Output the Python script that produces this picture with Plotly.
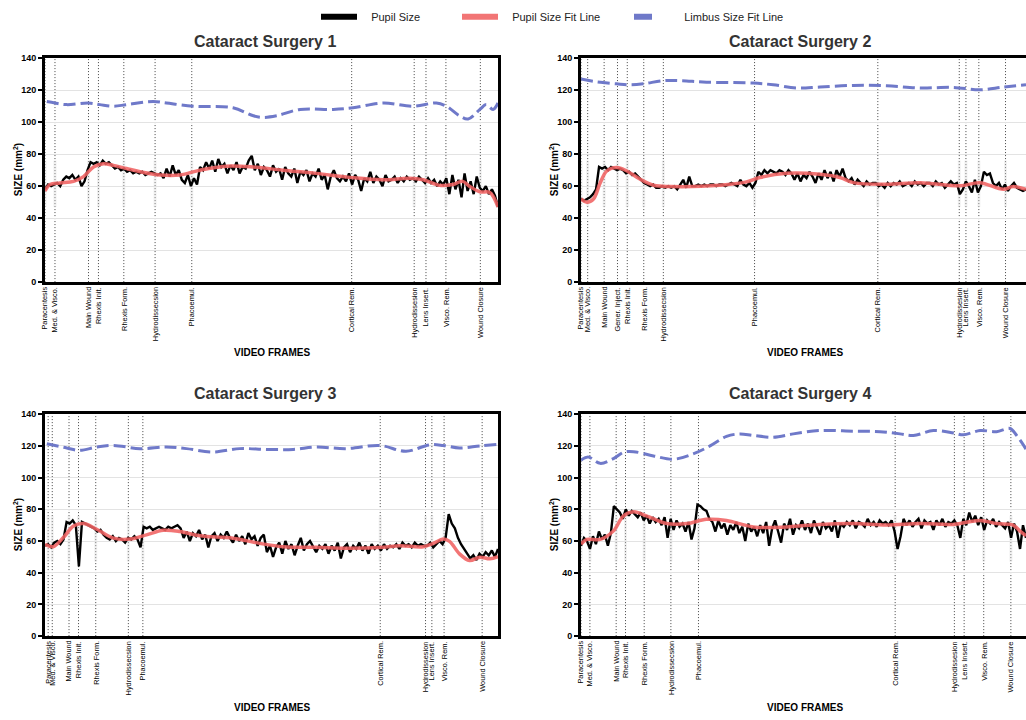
import plotly.graph_objects as go

# ---------------- data ----------------
N_FRAMES = 1000

PHASES_1 = ["Paracentesis", "Med. & Visco.", "Main Wound", "Rhexis Init.", "Rhexis Form.",
            "Hydrodissecsion", "Phacoemul.", "Cortical Rem.", "Hydrodissesion", "Lens Insert.",
            "Visco. Rem.", "Wound Closure"]
PHASE_FRAMES_1 = [0, 22, 96, 118, 174, 243, 324, 677, 815, 841, 885, 961]

PHASES_2 = ["Paracentesis", "Med. & Visco.", "Main Wound", "Gener. Inject.", "Rhexis Init.",
            "Rhexis Form.", "Hydrodissecsion", "Phacoemul.", "Cortical Rem.", "Hydrodissesion",
            "Lens Insert.", "Visco. Rem.", "Wound Closure"]
PHASE_FRAMES_2 = [0, 15, 52, 82, 104, 141, 185, 390, 667, 850, 865, 894, 954]

PHASES_3 = ["Paracentesis", "Med. & Visco.", "Main Wound", "Rhexis Init.", "Rhexis Form.",
            "Hydrodissecsion", "Phacoemul.", "Cortical Rem.", "Hydrodissesion", "Lens Insert.",
            "Visco. Rem.", "Wound Closure"]
PHASE_FRAMES_3 = [7, 16, 53, 74, 112, 184, 216, 740, 840, 854, 881, 965]

PHASES_4 = ["Paracentesis", "Med. & Visco.", "Main Wound", "Rhexis Init.", "Rhexis Form.",
            "Hydrodissecsion", "Phacoemul.", "Cortical Rem.", "Hydrodissesion", "Lens Insert.",
            "Visco. Rem.", "Wound Closure"]
PHASE_FRAMES_4 = [0, 20, 79, 100, 142, 202, 264, 706, 839, 861, 905, 966]

PUPIL_1 = [58, 61, 60, 61, 62, 60, 64, 66, 65, 67, 64, 66, 60, 63, 70, 75, 74, 75, 73, 76, 74, 75, 73,
           71, 72, 70, 71, 69, 70, 68, 69, 68, 69, 67, 68, 69, 68, 67, 68, 65, 71, 66, 73, 67, 70, 64,
           62, 67, 60, 65, 61, 72, 70, 75, 71, 76, 69, 77, 72, 74, 68, 73, 70, 75, 68, 72, 71, 76, 79,
           70, 74, 67, 72, 70, 66, 73, 69, 71, 64, 72, 68, 66, 71, 62, 69, 67, 70, 63, 68, 66, 71, 64,
           67, 58, 66, 70, 65, 63, 66, 63, 68, 61, 67, 64, 57, 65, 63, 69, 62, 66, 64, 60, 67, 63, 64,
           66, 62, 65, 63, 66, 64, 65, 63, 66, 64, 62, 65, 62, 64, 60, 63, 61, 65, 55, 67, 58, 64, 53,
           68, 57, 63, 55, 66, 59, 57, 60, 55, 58, 54, 47]
FIT_X_1 = [0, 11, 33, 63, 85, 107, 129, 151, 180, 210, 254, 298, 342, 400, 459, 525, 599, 673,
           746, 805, 835, 871, 900, 922, 937, 960, 982, 1000]
FIT_Y_1 = [57, 61, 62, 63, 66, 72, 74, 73, 71, 69, 67, 67, 70, 72.5, 72, 70, 68, 65.5, 64, 65, 64,
           60.5, 61, 63, 60, 56.5, 56, 47]
LIMBUS_X_1 = [4, 22, 48, 96, 121, 151, 180, 239, 268, 327, 415, 460, 482, 511, 563, 636, 680, 746,
              813, 864, 886, 915, 934, 960, 974, 989, 1000]
LIMBUS_Y_1 = [112.9, 112, 111, 112, 111, 110, 111, 113, 112, 110, 109, 104, 103, 104, 108, 108, 109,
              112, 110, 112, 110, 104, 102, 108, 111, 108, 112]

PUPIL_2 = [52, 51, 52, 53, 55, 58, 72, 71, 72, 70, 72, 71, 70, 71, 70, 68, 69, 67, 68, 66, 64, 62, 61,
           60, 61, 59, 59, 60, 59, 60, 59, 60, 58, 61, 64, 59, 66, 60, 60, 61, 60, 61, 60, 61, 61, 60,
           61, 61, 60, 61, 62, 61, 60, 64, 61, 60, 62, 59, 62, 69, 67, 70, 68, 70, 69, 68, 70, 69, 67,
           70, 68, 64, 68, 63, 67, 65, 69, 66, 62, 68, 64, 70, 65, 69, 63, 70, 66, 71, 65, 63, 65, 61,
           64, 62, 60, 63, 61, 62, 62, 60, 61, 59, 62, 60, 62, 61, 63, 60, 61, 62, 60, 63, 61, 62, 60,
           62, 62, 60, 63, 61, 62, 59, 61, 63, 61, 62, 55, 58, 63, 60, 56, 64, 56, 60, 69, 67, 68, 62,
           60, 62, 58, 61, 57, 60, 62, 59, 58, 57, 58]
FIT_X_2 = [0, 13, 28, 43, 58, 80, 103, 133, 163, 200, 312, 372, 402, 462, 537, 582, 612, 687, 762,
           852, 896, 949, 971, 1000]
FIT_Y_2 = [52, 50, 52, 62, 69.5, 71.6, 69.5, 64.3, 60.6, 59.8, 60.6, 62.7, 65.4, 68, 67.4, 65.4,
           62.2, 61.2, 62.2, 60.2, 62.2, 58, 59.8, 58]
LIMBUS_X_2 = [0, 28, 80, 110, 140, 185, 222, 282, 387, 432, 485, 537, 612, 687, 762, 836, 896, 949,
              1000]
LIMBUS_Y_2 = [127, 125.5, 124, 123.4, 124, 126, 126, 125, 124.5, 123.4, 121.4, 122, 123, 122.8,
              121.4, 121.8, 120.3, 122, 123.4]

PUPIL_3 = [57, 58, 56, 59, 60, 58, 61, 72, 71, 73, 70, 44, 72, 71, 70, 69, 68, 66, 67, 64, 62, 61, 63,
           60, 62, 61, 59, 62, 61, 63, 61, 56, 69, 68, 69, 67, 68, 69, 68, 67, 69, 68, 69, 70, 68, 62,
           66, 60, 65, 63, 67, 61, 64, 56, 63, 65, 60, 64, 62, 66, 62, 59, 64, 60, 63, 58, 65, 61, 63,
           57, 62, 64, 53, 57, 50, 56, 59, 52, 60, 55, 58, 51, 57, 62, 54, 58, 60, 56, 53, 57, 55, 58,
           52, 57, 54, 59, 49, 56, 58, 53, 57, 55, 59, 54, 57, 52, 58, 55, 57, 54, 58, 55, 57, 56, 58,
           55, 59, 57, 58, 56, 59, 57, 58, 57, 57, 59, 56, 58, 60, 58, 62, 77, 71, 68, 62, 58, 55, 52,
           49, 51, 48, 52, 50, 53, 51, 54, 50, 55]
FIT_X_3 = [0, 18, 40, 63, 85, 114, 151, 188, 224, 261, 298, 342, 415, 474, 526, 599, 673, 746, 783,
           835, 857, 879, 893, 915, 937, 960, 982, 1000]
FIT_Y_3 = [58, 56.4, 62, 69.5, 71, 67.4, 61.8, 61.2, 63.9, 66.8, 66, 63.3, 61.8, 58.5, 56.4, 56,
           55.4, 56, 57, 56.4, 58.5, 61.2, 59.8, 51.9, 47.7, 49.8, 48.8, 50.2]
LIMBUS_X_3 = [4, 48, 77, 114, 151, 210, 268, 312, 371, 430, 489, 548, 599, 665, 739, 797, 849, 879,
              915, 960, 1000]
LIMBUS_Y_3 = [121.4, 118.7, 117.2, 119.3, 120.3, 118.3, 119.3, 118.3, 116.2, 118.3, 117.8, 117.8,
              119.3, 118.3, 120.3, 116.6, 120.7, 120.3, 118.7, 120, 121]

PUPIL_4 = [57, 62, 60, 55, 63, 58, 66, 61, 64, 57, 65, 82, 80, 78, 74, 80, 76, 79, 77, 75, 78, 73, 76,
           71, 75, 72, 74, 70, 75, 62, 74, 67, 73, 69, 71, 66, 72, 61, 68, 83, 82, 80, 79, 74, 72, 66,
           73, 68, 71, 64, 70, 67, 72, 65, 69, 60, 71, 66, 69, 63, 70, 65, 72, 57, 68, 73, 66, 59, 71,
           67, 74, 64, 70, 68, 73, 67, 71, 65, 73, 69, 64, 72, 68, 70, 66, 73, 62, 71, 69, 72, 70, 73,
           68, 72, 71, 69, 74, 70, 72, 69, 73, 71, 72, 70, 73, 66, 55, 63, 74, 70, 73, 69, 72, 74, 68,
           73, 71, 72, 67, 73, 70, 74, 69, 72, 71, 73, 70, 62, 74, 70, 78, 72, 76, 70, 75, 67, 73, 71,
           74, 69, 72, 70, 68, 72, 62, 71, 66, 55, 70, 62]
FIT_X_4 = [0, 13, 43, 73, 95, 118, 148, 193, 238, 282, 327, 387, 462, 537, 612, 687, 762, 837, 897,
           934, 971, 986, 1000]
FIT_Y_4 = [58, 61, 61, 66.4, 75.7, 78.4, 75.7, 71, 71, 73.7, 73, 68.9, 68.9, 70.5, 71, 70.1, 71,
           70.5, 73, 71, 70.1, 66.4, 63.3]
LIMBUS_X_4 = [0, 16, 43, 73, 96, 118, 163, 208, 252, 290, 327, 357, 387, 432, 477, 537, 612, 672,
              717, 747, 792, 837, 859, 897, 934, 964, 979, 1000]
LIMBUS_Y_4 = [111, 113, 109, 112, 116, 116.4, 113.7, 111.6, 115, 120, 126, 127.6, 126.6, 125.5,
              127.6, 129.7, 129.3, 129, 127.6, 126.6, 129.7, 128.2, 127, 129.7, 129, 131, 126.6, 118]

TITLES = ["Cataract Surgery 1", "Cataract Surgery 2", "Cataract Surgery 3", "Cataract Surgery 4"]
Y_TICKS = [0, 20, 40, 60, 80, 100, 120, 140]
LEGEND_NAMES = ["Pupil Size", "Pupil Size Fit Line", "Limbus Size Fit Line"]

PANELS = [
    (PUPIL_1, FIT_X_1, FIT_Y_1, LIMBUS_X_1, LIMBUS_Y_1, PHASES_1, PHASE_FRAMES_1),
    (PUPIL_2, FIT_X_2, FIT_Y_2, LIMBUS_X_2, LIMBUS_Y_2, PHASES_2, PHASE_FRAMES_2),
    (PUPIL_3, FIT_X_3, FIT_Y_3, LIMBUS_X_3, LIMBUS_Y_3, PHASES_3, PHASE_FRAMES_3),
    (PUPIL_4, FIT_X_4, FIT_Y_4, LIMBUS_X_4, LIMBUS_Y_4, PHASES_4, PHASE_FRAMES_4),
]

# ---------------- style ----------------
W, H = 1026, 720
FONT = "Liberation Sans, Arial, sans-serif"
BLACK = "#000000"
RED = "rgba(240,98,98,0.88)"
BLUE = "#6f79c9"
X_DOM = [[45 / W, 498 / W], [581 / W, 1.0], [45 / W, 498 / W], [581 / W, 1.0]]
Y_DOM = [[1 - 281 / H, 1 - 54 / H], [1 - 281 / H, 1 - 54 / H],
         [1 - 640 / H, 1 - 415 / H], [1 - 640 / H, 1 - 415 / H]]
TITLE_Y = [1 - 37 / H, 1 - 37 / H, 1 - 394 / H, 1 - 394 / H]
XT_Y = [1 - 352 / H, 1 - 352 / H, 1 - 712 / H, 1 - 712 / H]
XT_X = [272 / W, 805 / W, 272 / W, 805 / W]
TITLE_X = [265 / W, 800 / W, 265 / W, 800 / W]
YT_X = [18 / W, 554 / W, 18 / W, 554 / W]
LEG_X = [316 / W, 457 / W, 629 / W]
PAD = "\u00a0\u00a0\u00a0"

fig = go.Figure()
annotations = []
shapes = []

for i, (pupil, fx, fy, lx, ly, phases, pframes) in enumerate(PANELS):
    k = i + 1
    xa = "x" if k == 1 else f"x{k}"
    ya = "y" if k == 1 else f"y{k}"
    n = len(pupil)
    px = [j * N_FRAMES / (n - 1) for j in range(n)]

    fig.add_trace(go.Scatter(x=px, y=pupil, mode="lines", xaxis=xa, yaxis=ya,
                             line=dict(color=BLACK, width=2.4), showlegend=False,
                             name=LEGEND_NAMES[0]))
    fig.add_trace(go.Scatter(x=fx, y=fy, mode="lines", xaxis=xa, yaxis=ya,
                             line=dict(color=RED, width=3.5, shape="spline", smoothing=1.0),
                             showlegend=False, name=LEGEND_NAMES[1]))
    fig.add_trace(go.Scatter(x=lx, y=ly, mode="lines", xaxis=xa, yaxis=ya,
                             line=dict(color=BLUE, width=3, shape="spline", smoothing=1.0,
                                       dash="12px,5px"),
                             showlegend=False, name=LEGEND_NAMES[2]))

    axkey = "" if k == 1 else str(k)
    fig.update_layout(**{
        f"xaxis{axkey}": dict(domain=X_DOM[i], range=[0, N_FRAMES], anchor=ya,
                              showgrid=False, zeroline=False, showticklabels=False,
                              showline=True, linecolor=BLACK, linewidth=3, mirror=True,
                              ticks=""),
        f"yaxis{axkey}": dict(domain=Y_DOM[i], range=[0, 140], anchor=xa,
                              tickvals=Y_TICKS, showgrid=True, gridcolor="#e3e3e3",
                              gridwidth=1, zeroline=False, showline=True, linecolor=BLACK,
                              linewidth=3, mirror=(k in (1, 3)), ticks="outside",
                              ticklen=4, tickwidth=2, tickcolor=BLACK,
                              tickfont=dict(family=FONT, size=9, color=BLACK, weight="bold")),
    })

    for name, f in zip(phases, pframes):
        shapes.append(dict(type="line", xref=xa, yref=f"{ya} domain", x0=f, x1=f, y0=0, y1=1,
                           line=dict(color="#444444", width=1, dash="1px,2px"), layer="below"))
        shapes.append(dict(type="line", xref=xa, yref=ya, x0=f, x1=f, y0=47, y1=76,
                           line=dict(color="rgba(215,215,215,0.35)", width=3), layer="below"))
        annotations.append(dict(x=f, y=0, xref=xa, yref=f"{ya} domain", text=name,
                                textangle=-90, xanchor="center", yanchor="top", yshift=-3,
                                showarrow=False, font=dict(family=FONT, size=7.4, color=BLACK)))

    annotations.append(dict(x=TITLE_X[i], y=TITLE_Y[i], xref="paper", yref="paper",
                            text=f"<b>{TITLES[i]}</b>", showarrow=False, xanchor="center",
                            yanchor="middle", font=dict(family=FONT, size=16, color="#333333")))
    annotations.append(dict(x=XT_X[i], y=XT_Y[i], xref="paper", yref="paper",
                            text="<b>VIDEO FRAMES</b>", showarrow=False, xanchor="center",
                            yanchor="middle", font=dict(family=FONT, size=10, color=BLACK)))
    annotations.append(dict(x=YT_X[i], y=sum(Y_DOM[i]) / 2, xref="paper", yref="paper",
                            text="<b>SIZE (mm<sup>2</sup>)</b>", textangle=-90, showarrow=False,
                            xanchor="center", yanchor="middle",
                            font=dict(family=FONT, size=10, color=BLACK)))

# legend-only entries, each in its own legend so the spacing matches
leg_styles = [dict(color=BLACK, width=6), dict(color=RED, width=6),
              dict(color=BLUE, width=6, dash="dash")]
leg_ids = ["legend", "legend2", "legend3"]
for name, st, lid in zip(LEGEND_NAMES, leg_styles, leg_ids):
    fig.add_trace(go.Scatter(x=[None], y=[None], mode="lines", name=PAD + name,
                             line=st, legend=lid))

leg_common = dict(orientation="h", xanchor="left", y=1 - 12 / H, yanchor="middle",
                  font=dict(family=FONT, size=11, color="#222222"), itemwidth=36,
                  bgcolor="rgba(0,0,0,0)")

fig.update_layout(
    width=W, height=H, margin=dict(l=0, r=0, t=0, b=0),
    paper_bgcolor="white", plot_bgcolor="white",
    font=dict(family=FONT, color=BLACK),
    showlegend=True,
    legend=dict(x=LEG_X[0], **leg_common),
    legend2=dict(x=LEG_X[1], **leg_common),
    legend3=dict(x=LEG_X[2], **leg_common),
    annotations=annotations, shapes=shapes,
)

fig.write_html("out.html")
